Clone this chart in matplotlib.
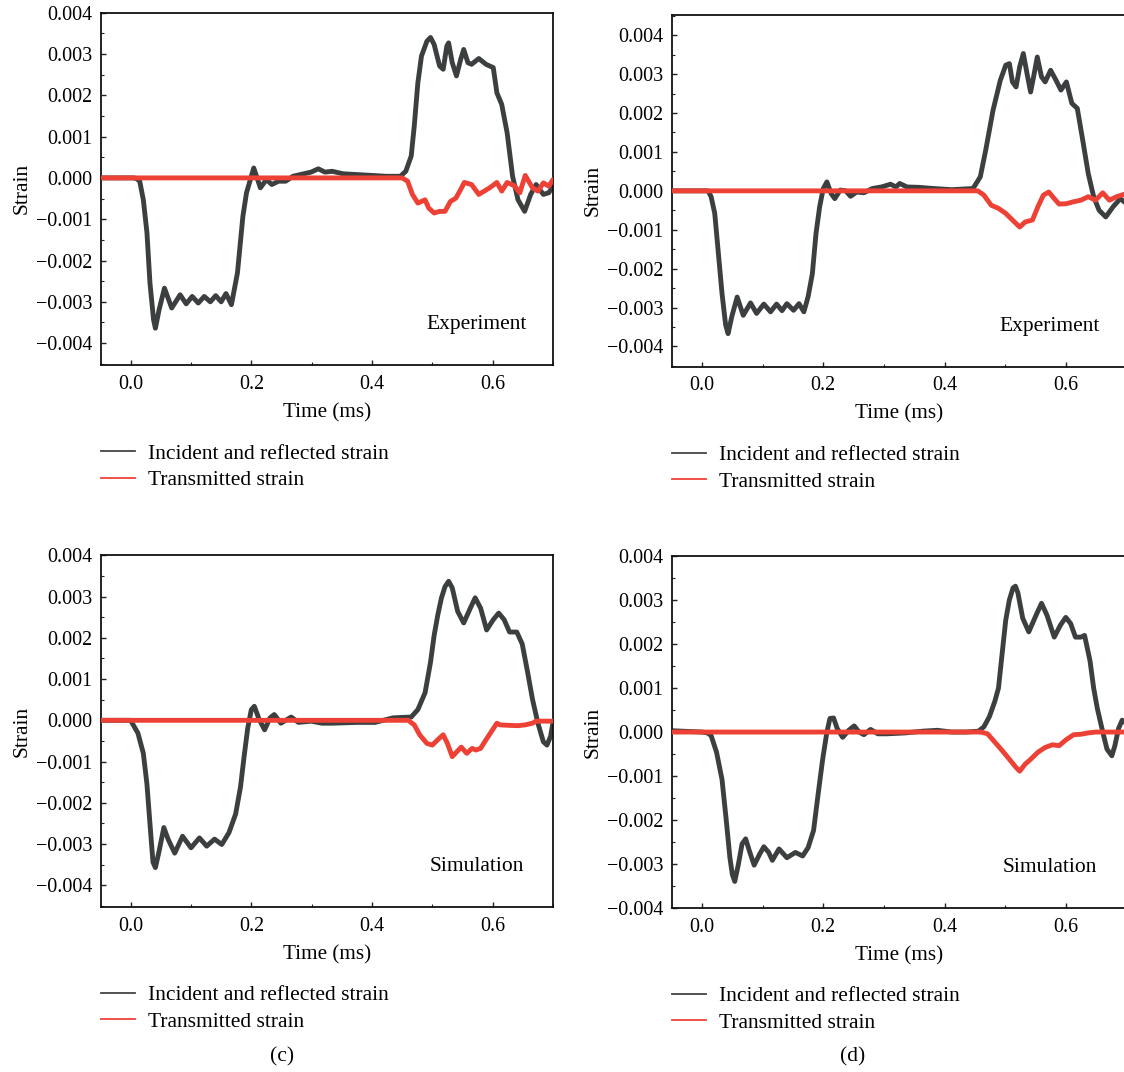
import matplotlib
matplotlib.use('Agg')
import matplotlib.pyplot as plt
from matplotlib.lines import Line2D
from matplotlib.ticker import FuncFormatter, MultipleLocator

plt.rcParams['font.family'] = ['Liberation Serif', 'DejaVu Serif']

# strain values below are in units of 1e-3
STRAIN_UNIT = 1e-3

# ---------- panel (a): Experiment ----------
a_incident = [(-0.05,0.0),(0.005,0.0),(0.010,-0.02),(0.015,-0.08),(0.021,-0.53),(0.027,-1.33),(0.032,-2.55),
    (0.038,-3.44),(0.041,-3.64),(0.047,-3.20),(0.056,-2.67),(0.068,-3.15),(0.082,-2.83),(0.092,-3.05),
    (0.102,-2.87),(0.112,-3.03),(0.122,-2.87),(0.132,-3.00),(0.141,-2.85),(0.150,-3.00),(0.158,-2.80),
    (0.167,-3.07),(0.177,-2.30),(0.186,-0.93),(0.192,-0.36),(0.204,0.24),(0.215,-0.24),(0.225,-0.04),
    (0.234,-0.16),(0.245,-0.08),(0.257,-0.08),(0.269,0.04),(0.287,0.10),(0.299,0.14),(0.311,0.22),
    (0.322,0.14),(0.334,0.16),(0.352,0.10),(0.376,0.08),(0.400,0.06),(0.423,0.04),(0.447,0.04),
    (0.456,0.16),(0.465,0.53),(0.470,1.25),(0.476,2.30),(0.482,2.95),(0.491,3.31),(0.497,3.40),
    (0.503,3.23),(0.512,2.71),(0.518,2.63),(0.524,3.19),(0.527,3.27),(0.533,2.79),(0.540,2.47),
    (0.547,2.87),(0.552,3.11),(0.559,2.79),(0.565,2.75),(0.577,2.89),(0.589,2.75),(0.601,2.67),
    (0.607,2.06),(0.615,1.78),(0.624,1.09),(0.633,0.04),(0.642,-0.53),(0.653,-0.81),(0.663,-0.40),
    (0.672,-0.16),(0.684,-0.40),(0.693,-0.36),(0.700,-0.20)]
a_transmitted = [(-0.05,0.0),(0.450,0.0),(0.459,-0.08),(0.467,-0.40),(0.476,-0.61),(0.488,-0.53),
    (0.494,-0.73),(0.503,-0.85),(0.512,-0.81),(0.521,-0.81),(0.530,-0.57),(0.539,-0.49),(0.547,-0.28),
    (0.553,-0.11),(0.565,-0.16),(0.577,-0.40),(0.586,-0.32),(0.595,-0.24),(0.607,-0.11),(0.615,-0.32),
    (0.624,-0.11),(0.636,-0.19),(0.645,-0.36),(0.654,0.06),(0.666,-0.24),(0.675,-0.32),(0.684,-0.12),
    (0.693,-0.20),(0.700,-0.04)]

# ---------- panel (b): Experiment ----------
b_incident = [(-0.05,0.0),(0.010,0.0),(0.015,-0.15),(0.021,-0.58),(0.027,-1.61),(0.033,-2.64),
    (0.039,-3.45),(0.043,-3.67),(0.049,-3.24),(0.058,-2.73),(0.068,-3.20),(0.080,-2.88),(0.090,-3.15),
    (0.102,-2.91),(0.113,-3.11),(0.123,-2.91),(0.132,-3.08),(0.140,-2.90),(0.151,-3.07),(0.160,-2.90),
    (0.168,-3.11),(0.175,-2.72),(0.182,-2.13),(0.188,-1.10),(0.194,-0.41),(0.200,0.06),(0.206,0.23),
    (0.213,-0.07),(0.219,-0.20),(0.228,0.02),(0.237,0.0),(0.245,-0.14),(0.255,-0.03),(0.267,-0.05),
    (0.281,0.06),(0.296,0.10),(0.311,0.17),(0.320,0.10),(0.326,0.19),(0.338,0.10),(0.358,0.09),
    (0.382,0.06),(0.412,0.03),(0.447,0.06),(0.459,0.36),(0.468,1.05),(0.480,2.07),(0.492,2.84),
    (0.501,3.23),(0.507,3.27),(0.512,2.80),(0.518,2.67),(0.524,3.19),(0.530,3.53),(0.536,3.02),
    (0.542,2.54),(0.548,3.02),(0.553,3.44),(0.560,2.93),(0.566,2.80),(0.575,3.10),(0.584,2.84),
    (0.592,2.59),(0.601,2.80),(0.610,2.25),(0.619,2.12),(0.628,1.30),(0.637,0.45),(0.646,-0.15),
    (0.655,-0.50),(0.666,-0.67),(0.678,-0.41),(0.690,-0.20),(0.700,-0.33)]
b_transmitted = [(-0.05,0.0),(0.455,0.0),(0.465,-0.11),(0.477,-0.37),(0.489,-0.45),(0.501,-0.58),
    (0.512,-0.75),(0.524,-0.93),(0.533,-0.80),(0.545,-0.75),(0.554,-0.41),(0.563,-0.11),(0.572,-0.03),
    (0.581,-0.20),(0.589,-0.34),(0.601,-0.33),(0.613,-0.28),(0.625,-0.24),(0.637,-0.15),(0.649,-0.24),
    (0.661,-0.05),(0.672,-0.24),(0.684,-0.15),(0.700,-0.07)]

# ---------- panel (c): Simulation ----------
c_incident = [(-0.05,0.0),(0.000,0.0),(0.003,-0.08),(0.012,-0.31),(0.021,-0.80),(0.027,-1.55),
    (0.033,-2.70),(0.037,-3.44),(0.041,-3.57),(0.047,-3.18),(0.055,-2.60),(0.062,-2.88),(0.073,-3.22),
    (0.086,-2.81),(0.100,-3.09),(0.114,-2.85),(0.126,-3.05),(0.139,-2.88),(0.151,-3.01),(0.163,-2.72),
    (0.174,-2.27),(0.182,-1.62),(0.188,-0.88),(0.194,-0.19),(0.200,0.26),(0.205,0.34),(0.213,0.02),
    (0.222,-0.23),(0.231,0.06),(0.238,0.14),(0.249,-0.07),(0.266,0.08),(0.278,-0.05),(0.299,-0.02),
    (0.317,-0.07),(0.334,-0.07),(0.376,-0.05),(0.405,-0.05),(0.435,0.06),(0.465,0.08),(0.476,0.26),
    (0.488,0.67),(0.497,1.41),(0.503,2.06),(0.509,2.55),(0.515,2.96),(0.521,3.24),(0.527,3.37),
    (0.533,3.21),(0.542,2.64),(0.552,2.36),(0.563,2.72),(0.571,2.97),(0.580,2.72),(0.590,2.19),
    (0.601,2.44),(0.610,2.60),(0.619,2.44),(0.628,2.14),(0.640,2.14),(0.649,1.85),(0.658,1.16),
    (0.666,0.51),(0.675,-0.07),(0.684,-0.52),(0.690,-0.60),(0.696,-0.39),(0.700,-0.05)]
c_transmitted = [(-0.05,0.0),(0.460,0.0),(0.470,-0.11),(0.479,-0.35),(0.491,-0.56),(0.500,-0.60),
    (0.509,-0.47),(0.518,-0.35),(0.525,-0.56),(0.533,-0.88),(0.542,-0.74),(0.548,-0.65),(0.557,-0.80),
    (0.566,-0.68),(0.572,-0.72),(0.580,-0.68),(0.589,-0.47),(0.598,-0.27),(0.607,-0.07),(0.612,-0.11),
    (0.624,-0.12),(0.642,-0.13),(0.654,-0.11),(0.666,-0.07),(0.672,-0.02),(0.700,-0.02)]

# ---------- panel (d): Simulation ----------
d_incident = [(-0.05,0.03),(0.000,0.0),(0.009,-0.02),(0.015,-0.08),(0.024,-0.46),(0.033,-1.08),
    (0.040,-2.01),(0.046,-2.86),(0.050,-3.24),(0.054,-3.40),(0.060,-3.01),(0.066,-2.55),(0.072,-2.43),
    (0.078,-2.70),(0.086,-3.03),(0.095,-2.78),(0.102,-2.61),(0.110,-2.74),(0.116,-2.92),(0.127,-2.66),
    (0.140,-2.86),(0.154,-2.74),(0.166,-2.82),(0.175,-2.63),(0.184,-2.24),(0.191,-1.47),(0.199,-0.62),
    (0.206,0.0),(0.211,0.31),(0.217,0.32),(0.223,0.08),(0.232,-0.12),(0.242,0.04),(0.251,0.14),
    (0.259,0.0),(0.267,-0.06),(0.278,0.06),(0.290,-0.04),(0.305,-0.04),(0.335,-0.02),(0.364,0.02),
    (0.388,0.04),(0.412,0.0),(0.435,0.0),(0.456,0.02),(0.465,0.12),(0.474,0.35),(0.483,0.70),
    (0.489,1.00),(0.495,1.78),(0.501,2.55),(0.507,3.01),(0.513,3.28),(0.517,3.32),(0.521,3.17),
    (0.529,2.59),(0.539,2.28),(0.551,2.66),(0.560,2.93),(0.569,2.66),(0.581,2.16),(0.591,2.43),
    (0.600,2.61),(0.608,2.47),(0.616,2.16),(0.625,2.16),(0.631,2.20),(0.640,1.62),(0.646,1.00),
    (0.652,0.54),(0.661,0.0),(0.668,-0.39),(0.676,-0.54),(0.681,-0.31),(0.687,0.08),(0.693,0.27),
    (0.700,0.19)]
d_transmitted = [(-0.05,0.0),(0.460,0.0),(0.471,-0.04),(0.483,-0.23),(0.495,-0.42),(0.507,-0.62),
    (0.517,-0.79),(0.524,-0.89),(0.533,-0.73),(0.542,-0.62),(0.554,-0.46),(0.566,-0.35),(0.578,-0.29),
    (0.589,-0.31),(0.601,-0.17),(0.613,-0.06),(0.625,-0.05),(0.637,-0.02),(0.649,0.0),(0.700,0.0)]

x_ticks = [0.0, 0.2, 0.4, 0.6]
y_ticks = [-0.004, -0.003, -0.002, -0.001, 0.0, 0.001, 0.002, 0.003, 0.004]
legend_labels = ['Incident and reflected strain', 'Transmitted strain']
panel_notes = ['Experiment', 'Experiment', 'Simulation', 'Simulation']
sub_labels = ['', '', '(c)', '(d)']

BLACK = '#3c3f40'
RED = '#ee4136'

W, H = 1124, 1072
fig = plt.figure(figsize=(W / 100, H / 100), dpi=100)

# layout in pixels: left, top, right, bottom, ylim
layout = [
    (100.5, 12.7, 553.0, 365.0, (-0.00453, 0.004)),
    (671.7, 15.0, 1126.4, 366.7, (-0.00452, 0.00452)),
    (100.5, 555.3, 553.0, 906.8, (-0.00452, 0.004)),
    (671.7, 556.3, 1126.4, 907.8, (-0.004, 0.004)),
]
data = [(a_incident, a_transmitted), (b_incident, b_transmitted),
        (c_incident, c_transmitted), (d_incident, d_transmitted)]

def minus_fmt(fmt):
    return FuncFormatter(lambda v, p: (fmt % v).replace('-', '\u2212') if abs(v) > 1e-12 else fmt % 0.0)

for i, ((l, t, r, b, ylim), (inc, tra)) in enumerate(zip(layout, data)):
    ax = fig.add_axes([l / W, 1 - b / H, (r - l) / W, (b - t) / H])
    ax.plot([p[0] for p in inc], [p[1] * STRAIN_UNIT for p in inc], color=BLACK, lw=3.5,
            solid_joinstyle='round', solid_capstyle='round', zorder=2)
    ax.plot([p[0] for p in tra], [p[1] * STRAIN_UNIT for p in tra], color=RED, lw=3.5,
            solid_joinstyle='round', solid_capstyle='round', zorder=3)
    ax.set_xlim(-0.05, 0.70)
    ax.set_ylim(*ylim)
    ax.set_xticks(x_ticks)
    ax.set_yticks(y_ticks)
    ax.xaxis.set_minor_locator(MultipleLocator(0.1))
    ax.yaxis.set_minor_locator(MultipleLocator(0.0005))
    ax.xaxis.set_major_formatter(minus_fmt('%.1f'))
    ax.yaxis.set_major_formatter(minus_fmt('%.3f'))
    ax.tick_params(which='both', direction='in', labelsize=14.4, color='#222222')
    ax.tick_params(which='major', length=3.5, width=1.0, pad=6)
    ax.tick_params(which='minor', length=2.0, width=0.8)
    ax.tick_params(axis='x', pad=7)
    for s in ax.spines.values():
        s.set_linewidth(1.3)
        s.set_color('#111111')
    ax.set_xlabel('Time (ms)', fontsize=15.2)
    ax.xaxis.set_label_coords(0.5, -0.108)
    ax.set_ylabel('Strain', fontsize=15.5)
    ax.yaxis.set_label_coords(-0.152, 0.5)
    ax.text(0.831, 0.114, panel_notes[i], transform=ax.transAxes, fontsize=15.5,
            ha='center', va='center')
    handles = [Line2D([], [], color='#444444', lw=1.3), Line2D([], [], color=RED, lw=1.3)]
    leg_top = b + 78.5
    fig.legend(handles, legend_labels, loc='upper left',
               bbox_to_anchor=(l / W, 1 - leg_top / H), bbox_transform=fig.transFigure,
               frameon=False, fontsize=15.5, borderpad=0, borderaxespad=0,
               handlelength=1.6, handletextpad=0.6, labelspacing=0.3)
    if sub_labels[i]:
        fig.text(((l + r) / 2 - 45 if i == 2 else (l + r) / 2 - 46) / W, 1 - 1057 / H,
                 sub_labels[i], ha='center', va='center', fontsize=15.5)

fig.savefig('out.png', dpi=100)
